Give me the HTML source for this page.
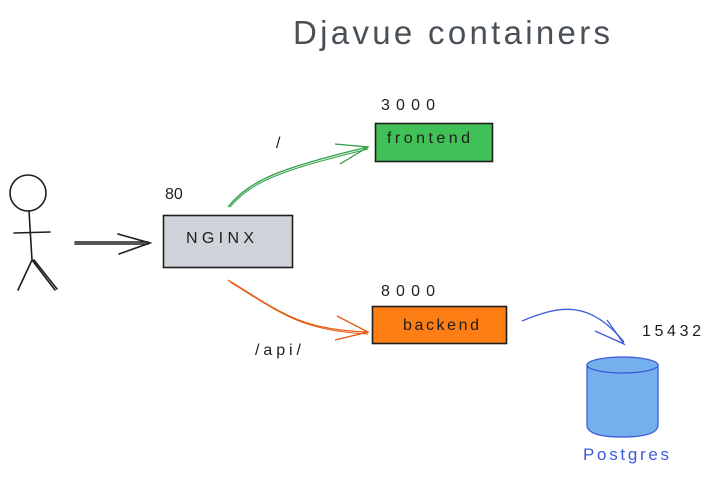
<!DOCTYPE html>
<html><head><style>
html,body{margin:0;padding:0;background:#fff;}
svg{display:block;}
text{font-family:"Liberation Sans",sans-serif;}
</style></head><body>
<svg width="713" height="477" viewBox="0 0 713 477" xmlns="http://www.w3.org/2000/svg">
<text x="293" y="44" font-size="33" fill="#495057" textLength="317" lengthAdjust="spacing">Djavue containers</text>
<g stroke="#1e1e1e" stroke-width="1.6" fill="none" stroke-linecap="round">
<circle cx="28" cy="193" r="18"/>
<path d="M29 211 L32 260"/>
<path d="M14 233 L50 232"/>
<path d="M32 260 L18 290 M32 260 L55 290 M34 260 L57 289"/>
<path d="M75 242 L148 242 M75 244 L148 244"/>
<path d="M118 234 L150 243 L119 254"/>
</g>
<rect x="163.5" y="215.5" width="129" height="52" fill="#ced4da" stroke="#1e1e1e" stroke-width="1.6"/>
<text x="186" y="243" font-size="16" fill="#1e1e1e" textLength="68" lengthAdjust="spacing">NGINX</text>
<text x="165" y="199" font-size="16" fill="#1e1e1e">80</text>
<path d="M228 207 C250 180 280 168 368 147" stroke="#2f9e44" stroke-width="1.3" fill="none"/>
<path d="M230 207 C252 181 282 170 368 149" stroke="#2f9e44" stroke-width="1" fill="none"/>
<path d="M335 144 L368 147 L340 164" stroke="#2f9e44" stroke-width="1.3" fill="none"/>
<text x="276" y="148" font-size="16" fill="#1e1e1e">/</text>
<rect x="375.5" y="123.5" width="117" height="38" fill="#40c057" stroke="#1e1e1e" stroke-width="1.6"/>
<text x="387" y="143" font-size="16" fill="#1e1e1e" textLength="83" lengthAdjust="spacing">frontend</text>
<text x="381" y="110" font-size="16" fill="#1e1e1e" textLength="54" lengthAdjust="spacing">3000</text>
<path d="M228 280 C280 312 300 330 368 332" stroke="#e8590c" stroke-width="1.3" fill="none"/>
<path d="M230 282 C282 314 302 331 368 334" stroke="#e8590c" stroke-width="1" fill="none"/>
<path d="M337 316 L368 332 L335 340" stroke="#e8590c" stroke-width="1.3" fill="none"/>
<text x="255" y="355" font-size="16" fill="#1e1e1e" textLength="46" lengthAdjust="spacing">/api/</text>
<rect x="372.5" y="306.5" width="134" height="37" fill="#fd7e14" stroke="#1e1e1e" stroke-width="1.6"/>
<text x="403" y="330" font-size="16" fill="#1e1e1e" textLength="76" lengthAdjust="spacing">backend</text>
<text x="381" y="296" font-size="16" fill="#1e1e1e" textLength="54" lengthAdjust="spacing">8000</text>
<path d="M522 321 C560 305 590 300 624 342" stroke="#3b5bdb" stroke-width="1.3" fill="none"/>
<path d="M595 331 L624 344 L607 320" stroke="#3b5bdb" stroke-width="1.3" fill="none"/>
<text x="642" y="336" font-size="16" fill="#1e1e1e" textLength="59" lengthAdjust="spacing">15432</text>
<path d="M587 365 L587 425 Q587 437 622 437 Q658 437 658 425 L658 365 Z" fill="#74b0eb" stroke="#3b5bdb" stroke-width="1.3"/>
<ellipse cx="622.5" cy="365" rx="35.5" ry="8" fill="#74b0eb" stroke="#3b5bdb" stroke-width="1.3"/>
<text x="583" y="460" font-size="17" fill="#3b5bdb" textLength="86" lengthAdjust="spacing">Postgres</text>
</svg>
</body></html>
